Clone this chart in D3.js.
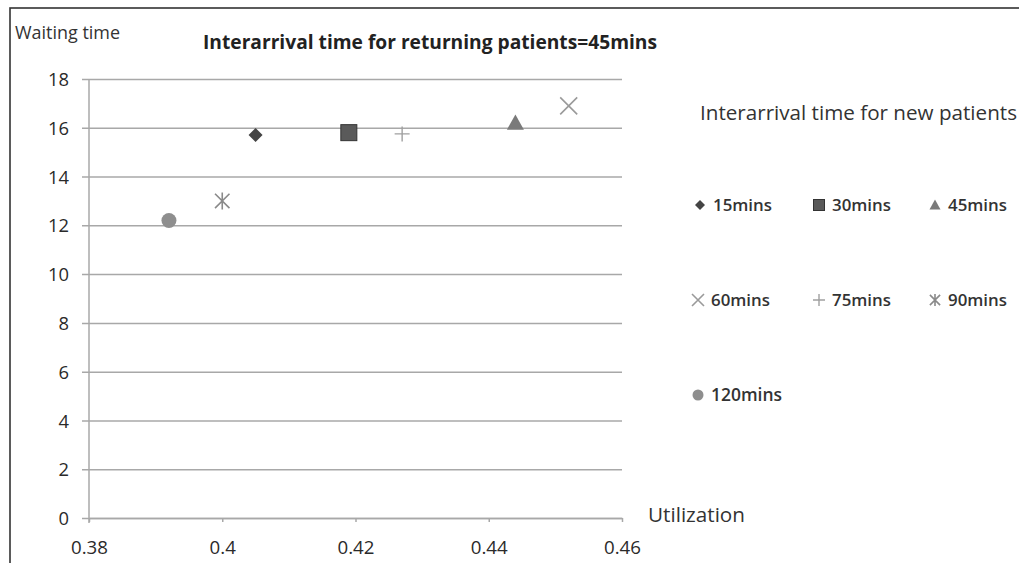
<!DOCTYPE html>
<html>
<head>
<meta charset="utf-8">
<script src="https://cdn.jsdelivr.net/npm/d3@7"></script>
<style>
  html, body { margin: 0; padding: 0; background: #fff; }
  svg { display: block; font-family: "Open Sans", Lato, sans-serif; }
</style>
</head>
<body>
<svg id="chart" width="1019" height="563"></svg>
<script>
// Series: interarrival time for new patients
const series = ["15mins", "30mins", "45mins", "60mins", "75mins", "90mins", "120mins"];
// Utilization (x) and waiting time (y) for each series
const utilization = [0.405, 0.419, 0.444, 0.452, 0.427, 0.400, 0.392];
const waitingTime = [15.7, 15.8, 16.2, 16.9, 15.75, 13.0, 12.2];
// Axis ticks
const xTicks = [0.38, 0.40, 0.42, 0.44, 0.46];
const xTickLabels = ["0.38", "0.4", "0.42", "0.44", "0.46"];
const yTicks = [0, 2, 4, 6, 8, 10, 12, 14, 16, 18];

const svg = d3.select("#chart");
const W = 1019, H = 563;

// font size that makes a text node span the given width
function fitSize(sel, width) {
  const fs = parseFloat(sel.attr("font-size"));
  const w = sel.node().getComputedTextLength();
  return w > 0 ? fs * width / w : fs;
}
function fitWidth(sel, width) {
  return sel.attr("font-size", fitSize(sel, width).toFixed(2));
}

// outer frame
svg.append("rect").attr("x", 10).attr("y", 8).attr("width", W + 20).attr("height", H + 20)
  .attr("fill", "none").attr("stroke", "#333").attr("stroke-width", 1.6);

const plot = { left: 89, right: 622, top: 79, bottom: 518 };
const x = d3.scaleLinear().domain([0.38, 0.46]).range([plot.left, plot.right]);
const y = d3.scaleLinear().domain([0, 18]).range([plot.bottom, plot.top]);

// horizontal gridlines with left tick stubs
const yAxis = d3.axisLeft(y).tickValues(yTicks).tickSize(-(plot.right - plot.left)).tickSizeOuter(0)
  .tickPadding(20).tickFormat(d3.format("d"));
const gy = svg.append("g").attr("transform", `translate(${plot.left},0)`).call(yAxis);
gy.attr("font-family", null).attr("font-size", null);
gy.select(".domain").remove();
gy.selectAll(".tick line").attr("x1", -7).attr("stroke", "#a8a8a8").attr("stroke-width", 1.5);
const yLabels = gy.selectAll(".tick text").attr("fill", "#2a2a2a").attr("font-size", 16)
  .attr("font-weight", 500).attr("dy", "0.36em");
const yFs = fitSize(yLabels.filter(d => d === 18), 21);
yLabels.attr("font-size", yFs.toFixed(2));

// vertical axis line
svg.append("line").attr("x1", plot.left).attr("x2", plot.left).attr("y1", plot.top).attr("y2", plot.bottom + 5)
  .attr("stroke", "#a8a8a8").attr("stroke-width", 1.5);

// x axis
const xAxis = d3.axisBottom(x).tickValues(xTicks).tickSize(4).tickSizeOuter(0).tickPadding(0)
  .tickFormat((d, i) => xTickLabels[i]);
const gx = svg.append("g").attr("transform", `translate(0,${plot.bottom})`).call(xAxis);
gx.attr("font-family", null).attr("font-size", null);
gx.select(".domain").attr("stroke", "#a8a8a8").attr("stroke-width", 1.5);
gx.selectAll(".tick line").attr("stroke", "#a8a8a8").attr("stroke-width", 1.5);
const xLabels = gx.selectAll(".tick text").attr("fill", "#2a2a2a").attr("font-size", 16)
  .attr("font-weight", 400).attr("y", 29).attr("dy", "0.35em");
const xFs = fitSize(xLabels.filter((d, i) => i === 0), 37);
xLabels.attr("font-size", xFs.toFixed(2));

// titles
fitWidth(svg.append("text").attr("x", 15).attr("y", 33).attr("dy", "0.35em").attr("font-size", 16)
  .attr("fill", "#333").text("Waiting time"), 105);
fitWidth(svg.append("text").attr("x", 203).attr("y", 42).attr("dy", "0.35em").attr("font-size", 18)
  .attr("font-weight", "bold").attr("fill", "#222")
  .text("Interarrival time for returning patients=45mins"), 454);
fitWidth(svg.append("text").attr("x", 648).attr("y", 515).attr("dy", "0.35em").attr("font-size", 18)
  .attr("fill", "#333").text("Utilization"), 97);

// marker styles per series
const markerStyle = [
  { kind: "diamond", color: "#444" },
  { kind: "square", color: "#4a4a4a" },
  { kind: "triangle", color: "#7a7a7a" },
  { kind: "x", color: "#9a9a9a" },
  { kind: "plus", color: "#a0a0a0" },
  { kind: "star", color: "#8a8a8a" },
  { kind: "circle", color: "#8e8e8e" }
];

function drawMarker(g, kind, color, s) {
  // s = approximate marker width
  const h = s / 2;
  if (kind === "diamond") {
    g.append("path").attr("d", `M0,${-h}L${h},0L0,${h}L${-h},0Z`).attr("fill", color);
  } else if (kind === "square") {
    g.append("rect").attr("x", -h).attr("y", -h).attr("width", s).attr("height", s)
      .attr("fill", "#5a5a5a").attr("stroke", "#333").attr("stroke-width", 1);
  } else if (kind === "triangle") {
    g.append("path").attr("d", `M0,${-h}L${h},${h * 0.8}L${-h},${h * 0.8}Z`).attr("fill", color);
  } else if (kind === "x") {
    g.append("path").attr("d", `M${-h},${-h}L${h},${h}M${-h},${h}L${h},${-h}`)
      .attr("stroke", color).attr("stroke-width", 1.6).attr("fill", "none");
  } else if (kind === "plus") {
    g.append("path").attr("d", `M${-h},0L${h},0M0,${-h}L0,${h}`)
      .attr("stroke", color).attr("stroke-width", 1.4).attr("fill", "none");
  } else if (kind === "star") {
    const k = h * 0.85;
    g.append("path").attr("d", `M${-k},${-k}L${k},${k}M${-k},${k}L${k},${-k}M0,${-h}L0,${h}`)
      .attr("stroke", color).attr("stroke-width", 1.6).attr("fill", "none");
  } else if (kind === "circle") {
    g.append("circle").attr("r", h).attr("fill", color);
  }
}

const markerSize = [14, 16, 17, 17, 15, 17, 15];
series.forEach((name, i) => {
  const g = svg.append("g").attr("transform", `translate(${x(utilization[i])},${y(waitingTime[i])})`);
  drawMarker(g, markerStyle[i].kind, markerStyle[i].color, markerSize[i]);
});

// legend
fitWidth(svg.append("text").attr("x", 700).attr("y", 113).attr("dy", "0.35em").attr("font-size", 17)
  .attr("fill", "#333").text("Interarrival time for new patients"), 317);
const legendCols = [700, 819, 935];
const legendRows = [205, 300, 395];
const legendSize = [10, 11, 11, 12, 12, 12, 11];
series.forEach((name, i) => {
  const cx = legendCols[i % 3] - (i > 2 && i % 3 === 0 ? 2 : 0);
  const cy = legendRows[Math.floor(i / 3)];
  const g = svg.append("g").attr("transform", `translate(${cx},${cy})`);
  drawMarker(g, markerStyle[i].kind, markerStyle[i].color, legendSize[i]);
  const t = svg.append("text").attr("x", cx + 13).attr("y", cy).attr("dy", "0.35em").attr("font-size", 15)
    .attr("font-weight", 600).attr("fill", "#333").text(name);
  fitWidth(t, name.length === 7 ? 71 : 59);
});
</script>
</body>
</html>
